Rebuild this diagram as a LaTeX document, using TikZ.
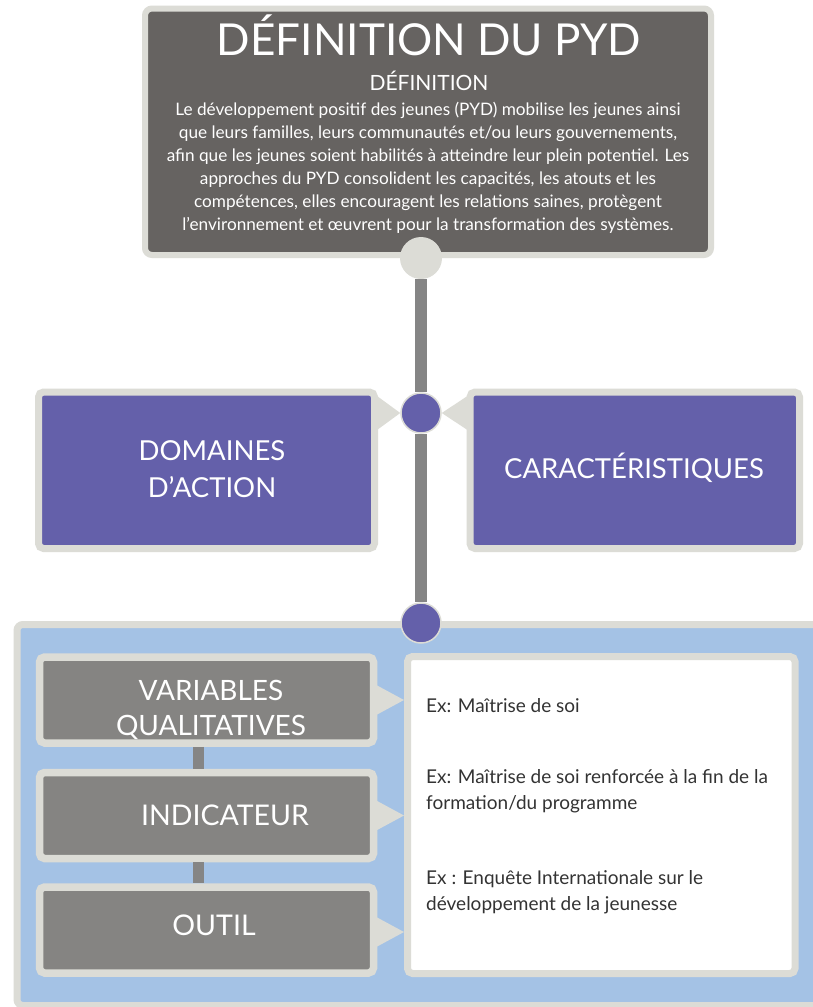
\documentclass[tikz,border=0pt]{standalone}
\usepackage{fontspec}
\setmainfont{Lato}
\usetikzlibrary{calc}
\definecolor{bordc}{HTML}{DCDCD6}
\definecolor{dgray}{HTML}{666361}
\definecolor{mgray}{HTML}{858482}
\definecolor{bgray}{HTML}{858585}
\definecolor{purp}{HTML}{6460AA}
\definecolor{lblue}{HTML}{A4C2E5}
\definecolor{dtext}{HTML}{333333}
\tikzset{
  tbox/.style={fill=dgray, draw=bordc, line width=6pt, rounded corners=7pt, inner sep=0pt},
  pbox/.style={fill=purp, draw=bordc, line width=7pt, rounded corners=5pt, inner sep=0pt},
  gbox/.style={fill=mgray, draw=bordc, line width=7.5pt, rounded corners=5pt, inner sep=0pt},
  wbox/.style={fill=white, draw=bordc, line width=7pt, rounded corners=5pt, inner sep=0pt},
  panel/.style={fill=lblue, draw=bordc, line width=7pt, rounded corners=6pt, inner sep=0pt},
  hub/.style={circle, minimum size=40pt, inner sep=0pt, fill=purp, draw=bordc, line width=1.5pt},
  hubtop/.style={circle, minimum size=42pt, inner sep=0pt, fill=bordc},
  ptr/.style={fill=bordc},
  bar/.style={draw=bgray, line width=12pt},
  minibar/.style={draw=bgray, line width=11pt},
  wtxt/.style={text=white, inner sep=0pt, align=center},
  extxt/.style={text=dtext, inner sep=0pt, align=left, font=\fontsize{19}{26}\selectfont},
}
\begin{document}
\begin{tikzpicture}[x=1pt,y=-1pt]
\useasboundingbox (0,0) rectangle (813,1007);
\clip (0,0) rectangle (813,1007);
\fill[white] (0,0) rectangle (813,1007);

% top definition box
\node[tbox, minimum width=566pt, minimum height=246.5pt] (top) at (428,131.75) {};
\node[wtxt, anchor=base, font=\fontsize{44}{44}\selectfont] (title) at (429,55) {DÉFINITION DU PYD};
\node[wtxt, anchor=base, font=\fontsize{21}{21}\selectfont] (subtitle) at (429,90) {DÉFINITION};
\node[wtxt, anchor=base, font=\fontsize{17.2}{23}\selectfont] (body) at (428,230) {Le développement positif des jeunes (PYD) mobilise les jeunes ainsi\\
que leurs familles, leurs communautés et/ou leurs gouvernements,\\
afin que les jeunes soient habilités à atteindre leur plein potentiel. Les\\
approches du PYD consolident les capacités, les atouts et les\\
compétences, elles encouragent les relations saines, protègent\\
l'environnement et œuvrent pour la transformation des systèmes.};

% bottom panel
\node[panel, minimum width=813pt, minimum height=381pt] (panel) at (423.5,815) {};

% hubs
\node[hubtop] (c1) at (421,258) {};
\node[hub] (c2) at (421,413) {};
\node[hub] (c3) at (421,623) {};
\draw[bar] (c1.south) -- (c2.north);
\draw[bar] (c2.south) -- (c3.north);

% purple boxes
\node[pbox, minimum width=336pt, minimum height=156.5pt] (lbox) at (206.5,470.25) {};
\node[pbox, minimum width=329.5pt, minimum height=156.5pt] (rbox) at (634.75,470.25) {};
\fill[ptr] ($(lbox.east |- c2)+(-1,-17)$) -- (c2.west) -- ($(lbox.east |- c2)+(-1,17)$) -- cycle;
\fill[ptr] ($(rbox.west |- c2)+(1,-17)$) -- (c2.east) -- ($(rbox.west |- c2)+(1,17)$) -- cycle;
\node[wtxt, anchor=base, font=\fontsize{27.5}{36.5}\selectfont] (ltext) at (212,497) {DOMAINES\\D’ACTION};
\node[wtxt, anchor=base, font=\fontsize{27.5}{27.5}\selectfont] (rtext) at (634,478) {CARACTÉRISTIQUES};

% panel content
\node[gbox, minimum width=334pt, minimum height=86pt] (box1) at (206.5,700) {};
\node[gbox, minimum width=334pt, minimum height=86pt] (box2) at (206.5,815.5) {};
\node[gbox, minimum width=334pt, minimum height=86pt] (box3) at (206.5,930) {};
\draw[minibar] ($(box1.south)+(-8.5,0)$) -- ($(box2.north)+(-8.5,0)$);
\draw[minibar] ($(box2.south)+(-8.5,0)$) -- ($(box3.north)+(-8.5,0)$);
\node[wbox, minimum width=387.5pt, minimum height=317pt] (wb) at (601.25,815) {};
\fill[ptr] ($(box1.east)+(-1,-15)$) -- (wb.west |- box1) -- ($(box1.east)+(-1,15)$) -- cycle;
\fill[ptr] ($(box2.east)+(-1,-15)$) -- (wb.west |- box2) -- ($(box2.east)+(-1,15)$) -- cycle;
\fill[ptr] ($(box3.east)+(-1,-13)$) -- ($(wb.west)+(0,117)$) -- ($(box3.east)+(-1,17)$) -- cycle;

\begin{scope}
\clip (42,661) rectangle (370,739);
\node[wtxt, anchor=base, font=\fontsize{28}{35}\selectfont] (t1) at (211,735) {VARIABLES\\QUALITATIVES};
\end{scope}
\node[wtxt, anchor=base, font=\fontsize{28.5}{28.5}\selectfont] (t2) at (225,825) {INDICATEUR};
\node[wtxt, anchor=base, font=\fontsize{28.5}{28.5}\selectfont] (t3) at (214,935) {OUTIL};

\node[extxt, anchor=base west] (e1) at (426,712) {Ex: Maîtrise de soi};
\node[extxt, anchor=base west] (e2) at (426,809) {Ex: Maîtrise de soi renforcée à la fin de la\\formation/du programme};
\node[extxt, anchor=base west] (e3) at (426,910) {Ex : Enquête Internationale sur le\\développement de la jeunesse};
\end{tikzpicture}
\end{document}
